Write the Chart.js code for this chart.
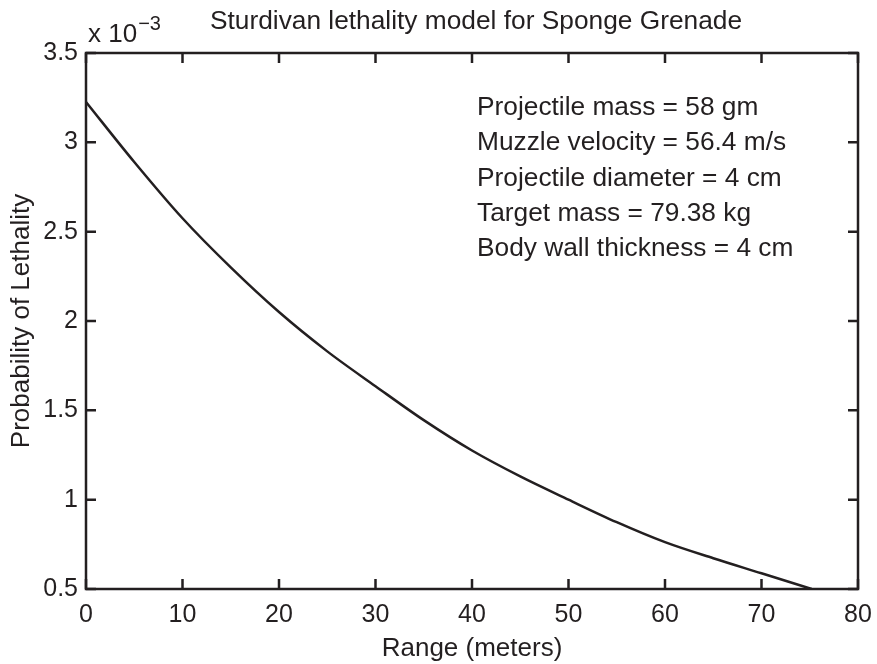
<!DOCTYPE html>
<html>
<head>
<meta charset="utf-8">
<script src="https://cdn.jsdelivr.net/npm/chart.js@4"></script>
<style>
html,body{margin:0;padding:0;background:#fff;}
#wrap{width:877px;height:664px;position:relative;}
</style>
</head>
<body>
<div id="wrap"><canvas id="c" width="877" height="664"></canvas></div>
<script>
// Range (meters)
const rangeM = [0, 5, 10, 15, 20, 25, 30, 35, 40, 45, 50, 55, 60, 65, 70, 75.2];
// Probability of lethality, in units of 1e-3
const lethality = [3.226, 2.89, 2.575, 2.30, 2.05, 1.83, 1.635, 1.445, 1.275, 1.13, 1.0, 0.874, 0.762, 0.672, 0.588, 0.5];
const xTicks = [0, 10, 20, 30, 40, 50, 60, 70, 80];
const yTicks = [0.5, 1, 1.5, 2, 2.5, 3, 3.5];
const titleText = "Sturdivan lethality model for Sponge Grenade";
const xTitle = "Range (meters)";
const yTitle = "Probability of Lethality";
const noteLines = [
  "Projectile mass = 58 gm",
  "Muzzle velocity = 56.4 m/s",
  "Projectile diameter = 4 cm",
  "Target mass = 79.38 kg",
  "Body wall thickness = 4 cm"
];

const FONT = "'Liberation Sans', Arial, Helvetica, sans-serif";
const INK = "#231f20";

const framePlugin = {
  id: 'frame',
  afterDraw(chart) {
    const {ctx, chartArea: a, scales: {x, y}} = chart;
    ctx.save();
    ctx.strokeStyle = INK;
    ctx.lineWidth = 2.5;
    ctx.strokeRect(a.left, a.top, a.right - a.left, a.bottom - a.top);
    const L = 10;
    ctx.beginPath();
    xTicks.forEach(v => {
      const px = x.getPixelForValue(v);
      ctx.moveTo(px, a.bottom); ctx.lineTo(px, a.bottom - L);
      ctx.moveTo(px, a.top); ctx.lineTo(px, a.top + L);
    });
    yTicks.forEach(v => {
      const py = y.getPixelForValue(v);
      ctx.moveTo(a.left, py); ctx.lineTo(a.left + L, py);
      ctx.moveTo(a.right, py); ctx.lineTo(a.right - L, py);
    });
    ctx.stroke();
    // title
    ctx.fillStyle = INK;
    ctx.font = "26.3px " + FONT;
    ctx.textAlign = 'center';
    ctx.textBaseline = 'alphabetic';
    ctx.fillText(titleText, 476, 29);
    // exponent
    ctx.textAlign = 'left';
    ctx.font = "26px " + FONT;
    ctx.fillText("x 10", 88, 42);
    const w = ctx.measureText("x 10").width;
    ctx.font = "20px " + FONT;
    ctx.fillText("\u22123", 88 + w + 1, 30);
    // note box
    ctx.font = "26.3px " + FONT;
    noteLines.forEach((t, i) => ctx.fillText(t, 477, 115 + i * 35.3));
    ctx.restore();
  }
};

new Chart(document.getElementById('c'), {
  type: 'line',
  data: {
    datasets: [{
      data: rangeM.map((r, i) => ({x: r, y: lethality[i]})),
      borderColor: INK,
      borderWidth: 2.5,
      pointRadius: 0,
      cubicInterpolationMode: 'monotone',
      fill: false
    }]
  },
  options: {
    responsive: false,
    animation: false,
    devicePixelRatio: 1,
    layout: {padding: {left: 0, right: 19, top: 53, bottom: 0}},
    plugins: {legend: {display: false}, tooltip: {enabled: false}, title: {display: false}},
    scales: {
      x: {
        type: 'linear', min: 0, max: 80,
        afterBuildTicks: s => { s.ticks = xTicks.map(v => ({value: v})); },
        afterFit: s => { s.height = 75; s.paddingLeft = 0; s.paddingRight = 0; },
        grid: {display: false, drawTicks: false},
        border: {display: false},
        ticks: {color: INK, font: {size: 25, family: FONT}, padding: 11, maxRotation: 0, autoSkip: false},
        title: {display: true, text: xTitle, color: INK, font: {size: 26, family: FONT}, padding: {top: 0, bottom: 0}}
      },
      y: {
        type: 'linear', min: 0.5, max: 3.5,
        afterBuildTicks: s => { s.ticks = yTicks.map(v => ({value: v})); },
        afterFit: s => { s.width = 86; s.paddingTop = 0; s.paddingBottom = 0; },
        grid: {display: false, drawTicks: false},
        border: {display: false},
        ticks: {color: INK, font: {size: 25, family: FONT}, padding: 8, autoSkip: false,
          callback: v => String(v)},
        title: {display: true, text: yTitle, color: INK, font: {size: 26, family: FONT}, padding: {top: 6, bottom: 0}}
      }
    }
  },
  plugins: [framePlugin]
});
</script>
</body>
</html>
